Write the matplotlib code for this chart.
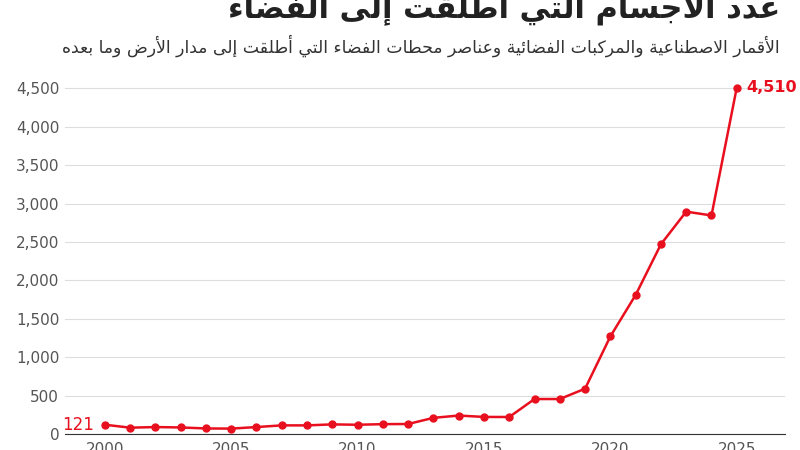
import matplotlib
matplotlib.use("Agg")
import matplotlib.pyplot as plt
from matplotlib.ticker import FuncFormatter, MultipleLocator

years = list(range(2000, 2026))
objects = [121, 82, 90, 85, 72, 70, 90, 112, 112, 125, 120, 128, 130, 210, 240,
           222, 221, 455, 455, 590, 1270, 1810, 2470, 2895, 2845, 4510]
title = "عدد الأجسام التي أطلقت إلى الفضاء"
subtitle = "الأقمار الاصطناعية والمركبات الفضائية وعناصر محطات الفضاء التي أطلقت إلى مدار الأرض وما بعده"

# minimal Arabic shaper (presentation forms + RTL)
FORMS = {'ء': (0xFE80, 1), 'أ': (0xFE83, 2), 'إ': (0xFE87, 2), 'ا': (0xFE8D, 2),
         'ئ': (0xFE89, 4), 'ب': (0xFE8F, 4), 'ة': (0xFE93, 2), 'ت': (0xFE95, 4),
         'ج': (0xFE9D, 4), 'ح': (0xFEA1, 4), 'د': (0xFEA9, 2), 'ر': (0xFEAD, 2),
         'س': (0xFEB1, 4), 'ص': (0xFEB9, 4), 'ض': (0xFEBD, 4), 'ط': (0xFEC1, 4),
         'ع': (0xFEC9, 4), 'ف': (0xFED1, 4), 'ق': (0xFED5, 4), 'ك': (0xFED9, 4),
         'ل': (0xFEDD, 4), 'م': (0xFEE1, 4), 'ن': (0xFEE5, 4), 'ه': (0xFEE9, 4),
         'و': (0xFEED, 2), 'ى': (0xFEEF, 2), 'ي': (0xFEF1, 4)}
LAMALEF = {'ا': 0xFEFB, 'أ': 0xFEF7, 'إ': 0xFEF9}


def shape(s):
    out = []
    i = 0
    n = len(s)
    while i < n:
        c = s[i]
        if c not in FORMS:
            out.append(c); i += 1; continue
        prev = s[i - 1] if i > 0 else ''
        pj = prev in FORMS and FORMS[prev][1] == 4
        if c == 'ل' and i + 1 < n and s[i + 1] in LAMALEF:
            out.append(chr(LAMALEF[s[i + 1]] + (1 if pj else 0)))
            i += 2; continue
        base, k = FORMS[c]
        nxt = s[i + 1] if i + 1 < n else ''
        nj = k == 4 and nxt in FORMS
        if k == 1:
            off = 0
        elif pj and nj:
            off = 3
        elif pj:
            off = 1
        elif nj:
            off = 2
        else:
            off = 0
        out.append(chr(base + off))
        i += 1
    return ''.join(out)[::-1]


plt.rcParams['font.family'] = ['DejaVu Sans']
fig = plt.figure(figsize=(8, 4.5), dpi=100)
ax = fig.add_axes([0.081, 0.0356, 0.9, 0.808])
red = '#e8101e'
ax.plot(years, objects, color=red, lw=1.8, marker='o', ms=5, zorder=3, clip_on=False)
ax.set_xlim(1998.42, 2026.9)
ax.set_ylim(0, 4734)
ax.yaxis.set_major_locator(MultipleLocator(500))
ax.yaxis.set_major_formatter(FuncFormatter(lambda v, p: f"{int(v):,}"))
ax.xaxis.set_major_locator(MultipleLocator(5))
ax.grid(axis='y', color='#dddddd', lw=0.8)
ax.set_axisbelow(True)
for s in ['top', 'right', 'left']:
    ax.spines[s].set_visible(False)
ax.spines['bottom'].set_color('#333333')
ax.tick_params(axis='y', length=0, labelsize=11, labelcolor='#555555', pad=4)
ax.tick_params(axis='x', length=0, labelsize=11, labelcolor='#555555', pad=6)
ax.annotate(f"{objects[0]:,}", (years[0], objects[0]), xytext=(-8, 0),
            textcoords='offset points', ha='right', va='center', color=red, fontsize=12)
ax.annotate(f"{objects[-1]:,}", (years[-1], objects[-1]), xytext=(7, 0),
            textcoords='offset points', ha='left', va='center', color=red, fontsize=11.5,
            fontweight='bold')
fig.text(0.975, 0.985, shape(title), ha='right', va='center', fontsize=22,
         fontweight='bold', color='#222222')
fig.text(0.975, 0.898, shape(subtitle), ha='right', va='center', fontsize=12.4,
         color='#333333')
fig.savefig('out.png', dpi=100)
